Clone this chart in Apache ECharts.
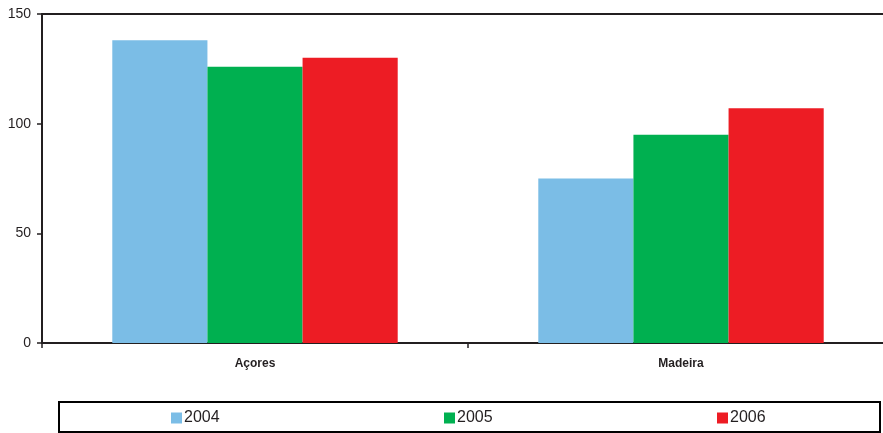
<!DOCTYPE html>
<html><head><meta charset="utf-8">
<script src="https://cdn.jsdelivr.net/npm/echarts@6/dist/echarts.min.js"></script>
<style>html,body{margin:0;padding:0;background:#fff;overflow:hidden}#c{width:894px;height:433px}</style>
</head><body><div id="c"></div>
<script>
const categories = ['Açores', 'Madeira'];
const s2004 = [138, 75];
const s2005 = [126, 95];
const s2006 = [130, 107];
const seriesNames = ['2004', '2005', '2006'];
const yTicks = [0, 50, 100, 150];

const colors = ['#7BBDE6', '#00B050', '#ED1C24'];
const dark = '#231F20';
const chart = echarts.init(document.getElementById('c'));
const legendLefts = [171, 444, 717];
chart.setOption({
  animation: false,
  textStyle: { fontFamily: 'Liberation Sans, Arial, sans-serif' },
  grid: { left: 42, right: 0, top: 14, height: 329, containLabel: false },
  legend: seriesNames.map((n, i) => ({
    data: [n], left: legendLefts[i], top: 410, padding: 0, itemWidth: 11, itemHeight: 11, itemGap: 0,
    icon: 'rect', textStyle: { fontSize: 16, color: dark, padding: [0, 0, 0, -3] }, selectedMode: false
  })),
  xAxis: [{
    type: 'category', data: categories,
    axisLine: { lineStyle: { color: dark, width: 2 } },
    axisTick: { show: true, length: 5, lineStyle: { color: dark, width: 1.5 } },
    axisLabel: { fontSize: 12, fontWeight: 'bold', color: dark, margin: 15 }
  }, {
    type: 'category', data: categories, position: 'top',
    axisLine: { show: true, lineStyle: { color: dark, width: 2 } },
    axisTick: { show: false }, axisLabel: { show: false }
  }],
  yAxis: {
    type: 'value', min: yTicks[0], max: yTicks[yTicks.length - 1], interval: 50,
    axisLine: { show: true, lineStyle: { color: dark, width: 2 } },
    axisTick: { show: true, length: 5, lineStyle: { color: dark, width: 1.5 } },
    axisLabel: { fontSize: 14, color: dark, margin: 11 },
    splitLine: { show: false }
  },
  series: [s2004, s2005, s2006].map((d, i) => ({
    name: seriesNames[i], type: 'bar', data: d, barGap: '0%', barCategoryGap: '33%',
    itemStyle: { color: colors[i] }
  })),
  graphic: [{
    type: 'rect', shape: { x: 59, y: 402, width: 821, height: 30 },
    style: { fill: 'none', stroke: '#000', lineWidth: 2 }
  }]
});
</script></body></html>
